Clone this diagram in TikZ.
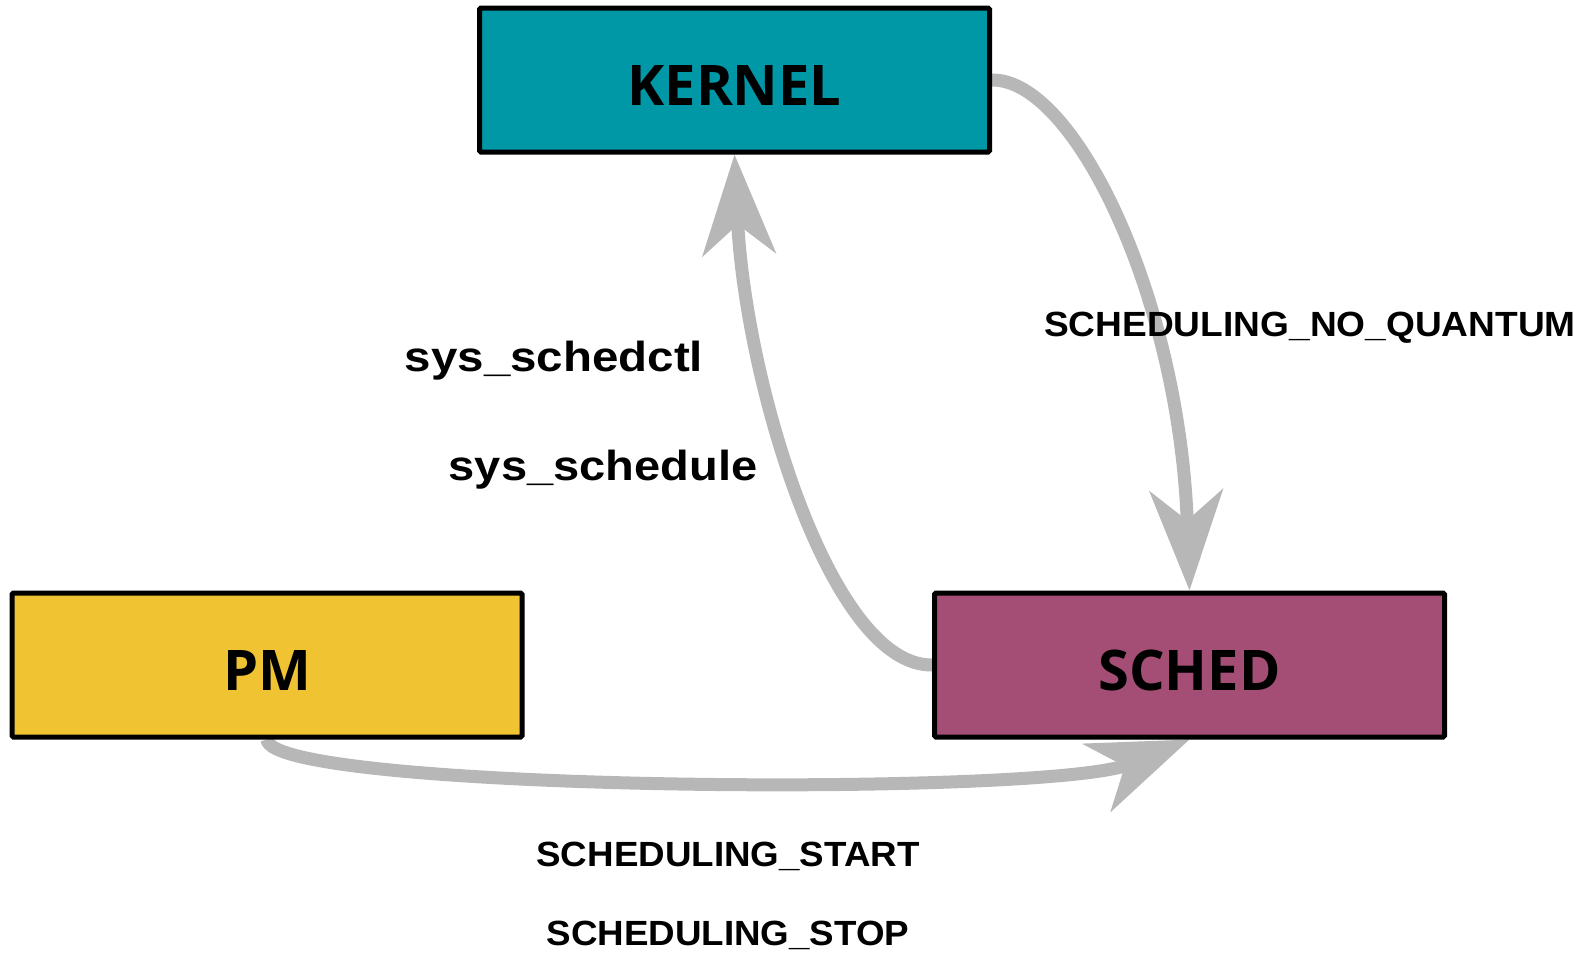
\documentclass[tikz,border=0pt]{standalone}
\usepackage{fontspec}
\setmainfont{Liberation Sans}
\newfontfamily\boxfont{Open Sans}
\usetikzlibrary{arrows.meta,backgrounds}

\definecolor{kernelfill}{RGB}{0,151,167}
\definecolor{schedfill}{RGB}{165,78,117}
\definecolor{pmfill}{RGB}{240,195,50}
\definecolor{flowgray}{RGB}{183,183,183}

\tikzset{
  module/.style={draw=black, line width=5pt, rounded corners=1.5pt,
    minimum width=510pt, minimum height=144pt, inner sep=0pt,
    text height=51pt, text depth=0pt,
    font=\boxfont\bfseries\fontsize{56}{64}\selectfont},
  flow/.style={draw=flowgray, line width=13pt,
    -{Stealth[length=100pt, width=73pt, inset=30pt, fill=flowgray]}},
  biglabel/.style={anchor=base, inner sep=0pt, font=\bfseries\fontsize{42}{50}\selectfont},
  msglabel/.style={anchor=base, inner sep=0pt, font=\bfseries\fontsize{35}{42}\selectfont},
}

\begin{document}
\begin{tikzpicture}[x=1pt, y=-1pt]
  \useasboundingbox (0,0) rectangle (1595,954);

  % the three modules
  \node[module, fill=kernelfill] (kernel) at (734.5,80) {KERNEL};
  \node[module, fill=pmfill]     (pm)     at (267,665) {PM};
  \node[module, fill=schedfill]  (sched)  at (1189.5,665) {SCHED};

  % message flows between the modules
  \begin{scope}[on background layer]
    \draw[flow] (kernel.east) .. controls (1075,79) and (1180,300) .. (sched.north);
    \draw[flow] (sched.west) .. controls (830,666) and (745,380) .. (kernel.south);
    \draw[flow] (pm.south) .. controls (270,792) and (1050,797) .. (sched.south);
  \end{scope}

  % labels of the flows
  \node[msglabel] (quantum) at (1310,336) {\scalebox{1.06}[1]{SCHEDULING\_NO\_QUANTUM}};
  \node[biglabel] (schedctl) at (554,371) {\scalebox{1.13}[1]{sys\_schedctl}};
  \node[biglabel] (schedule) at (603,480) {\scalebox{1.12}[1]{sys\_schedule}};
  \node[msglabel] (start) at (728,866) {\scalebox{1.05}[1]{SCHEDULING\_START}};
  \node[msglabel] (stop)  at (728,945) {\scalebox{1.05}[1]{SCHEDULING\_STOP}};
\end{tikzpicture}
\end{document}
